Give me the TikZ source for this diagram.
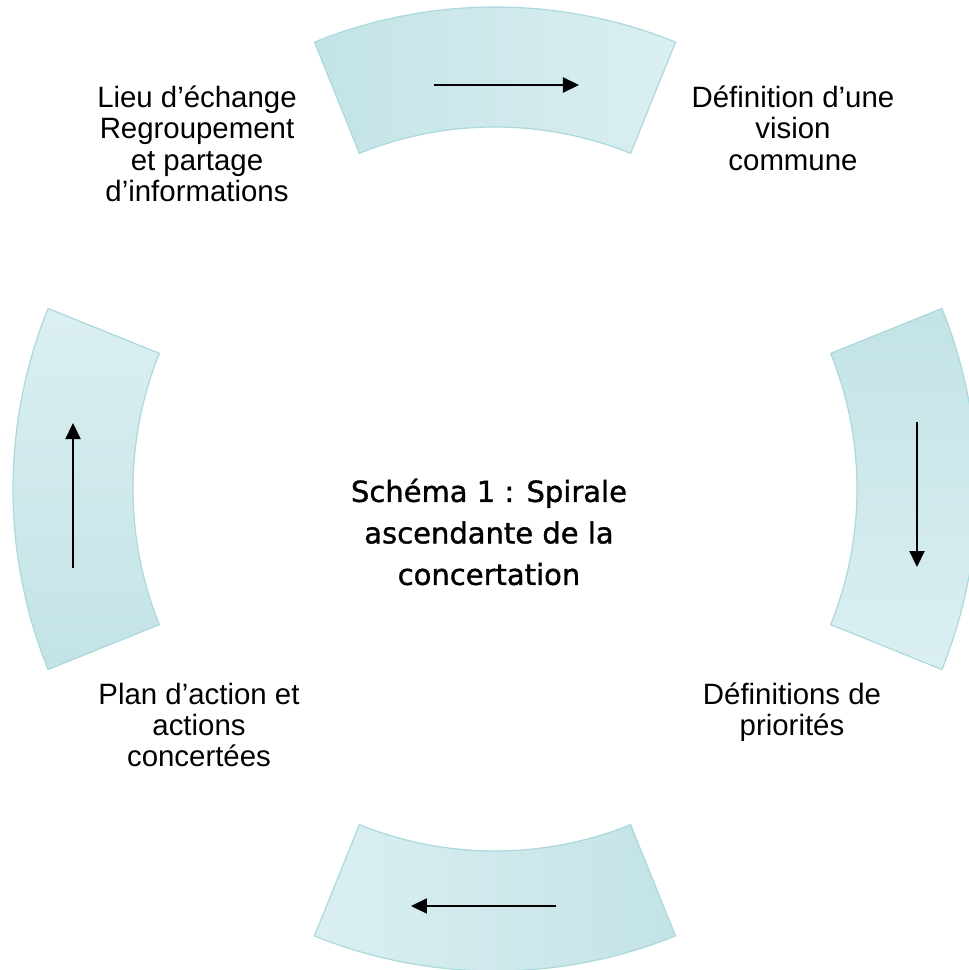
\documentclass[tikz,border=0pt]{standalone}
\usepackage{fontspec}
\setmainfont{Liberation Sans}
\newfontfamily\titlefont[FakeBold=1.2]{DejaVu Sans}
\usepackage{tikz}
\usetikzlibrary{arrows.meta}
\definecolor{sectdark}{HTML}{C3E3E6}
\definecolor{sectlight}{HTML}{DBEFF1}
\definecolor{sectline}{HTML}{ABD9DD}

\begin{document}
\begin{tikzpicture}[x=0.5pt, y=0.5pt,
    sector/.style={draw=sectline, line width=0.6pt},
    flow/.style={-{Triangle[length=8pt, width=7.5pt]}, line width=1.1pt},
    stagetext/.style={align=center, inner sep=0pt, font=\fontsize{14.7}{15.7}\selectfont},
    headline/.style={align=center, inner sep=0pt, font=\titlefont\fontsize{14.5}{20.75}\selectfont}]
  \useasboundingbox (-495, -481) rectangle (474, 489);

  % the four parts of the ring
  \draw[sector, left color=sectdark, right color=sectlight]
    (68:482) arc[start angle=68, end angle=112, radius=482]
    -- (112:362) arc[start angle=112, end angle=68, radius=362] -- cycle;
  \draw[sector, top color=sectdark, bottom color=sectlight]
    (-22:482) arc[start angle=-22, end angle=22, radius=482]
    -- (22:362) arc[start angle=22, end angle=-22, radius=362] -- cycle;
  \draw[sector, right color=sectdark, left color=sectlight]
    (248:482) arc[start angle=248, end angle=292, radius=482]
    -- (292:362) arc[start angle=292, end angle=248, radius=362] -- cycle;
  \draw[sector, bottom color=sectdark, top color=sectlight]
    (158:482) arc[start angle=158, end angle=202, radius=482]
    -- (202:362) arc[start angle=202, end angle=158, radius=362] -- cycle;

  % arrows
  \coordinate (topstart) at (-61, 404);
  \coordinate (topend) at (84, 404);
  \coordinate (rightstart) at (422, 67);
  \coordinate (rightend) at (422, -78);
  \coordinate (bottomstart) at (61, -417);
  \coordinate (bottomend) at (-84, -417);
  \coordinate (leftstart) at (-422, -79);
  \coordinate (leftend) at (-422, 66);

  \draw[flow] (topstart) -- (topend);
  \draw[flow] (rightstart) -- (rightend);
  \draw[flow] (bottomstart) -- (bottomend);
  \draw[flow] (leftstart) -- (leftend);

  % texts
  \node[headline] (title) at (-6, -43) {Schéma 1 : Spirale\\ascendante de la\\concertation};

  \node[stagetext] (exchange) at (-298, 345) {Lieu d’échange\\Regroupement\\et partage\\d’informations};
  \node[stagetext] (vision) at (298, 361) {Définition d’une\\vision\\commune};
  \node[stagetext] (priorities) at (297, -223) {Définitions de\\priorités};
  \node[stagetext] (plan) at (-296, -236) {Plan d’action et\\actions\\concertées};
\end{tikzpicture}
\end{document}
